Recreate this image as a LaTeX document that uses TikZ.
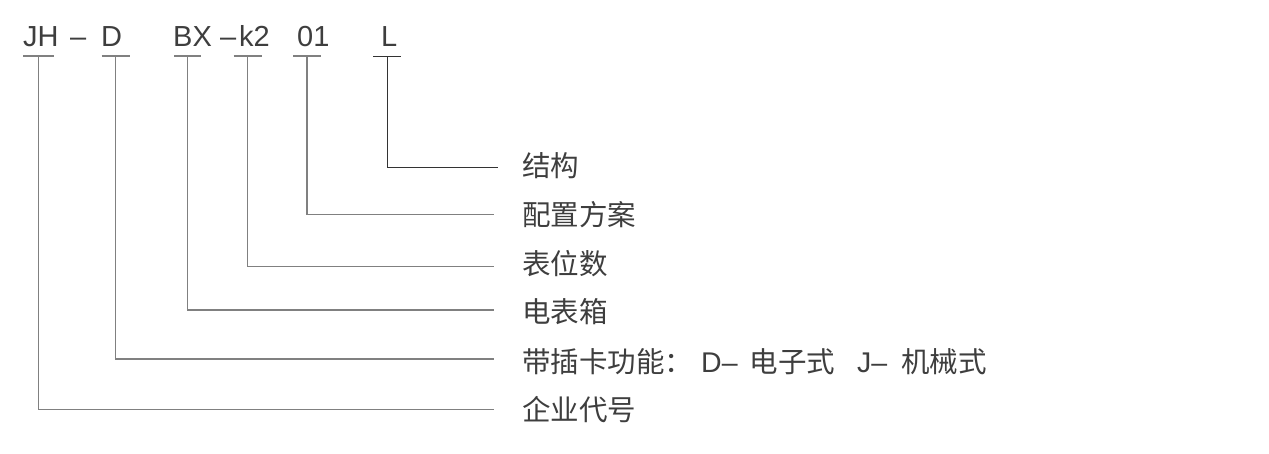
\documentclass[tikz,border=0pt]{standalone}
\usepackage{fontspec}
\setmainfont{Liberation Sans}
\newfontfamily\cjk{Noto Sans CJK SC}
\definecolor{inkgray}{RGB}{62,62,62}
\definecolor{linegray}{RGB}{128,128,128}
\tikzstyle{codenode} = [inner sep=0pt, anchor=base west, text=inkgray, font=\fontsize{29}{30}\selectfont]
\tikzstyle{labelnode} = [inner sep=0pt, anchor=west, text=inkgray, font=\cjk\fontsize{28.5}{30}\selectfont]
\tikzstyle{codeline} = [draw=linegray, line width=1.3pt]
\tikzstyle{darkline} = [draw=black!80, line width=0.9pt]

\begin{document}
\begin{tikzpicture}[x=1pt, y=1pt]
  \useasboundingbox (0,0) rectangle (1269,-453);

  \node[codenode] (codeJH) at (23,-46) {JH};
  \node[codenode] (dashA) at (70,-46) {–};
  \node[codenode] (codeD) at (101,-46) {D};
  \node[codenode] (codeBX) at (173,-46) {BX};
  \node[codenode] (dashB) at (220,-46) {–};
  \node[codenode] (codeK) at (239,-46) {k2};
  \node[codenode] (codeNo) at (297,-46) {01};
  \node[codenode] (codeL) at (381,-46) {L};

  \coordinate (tJH) at (38.5,-56);
  \coordinate (tD) at (115.5,-56);
  \coordinate (tBX) at (187.5,-56);
  \coordinate (tK) at (247.5,-56);
  \coordinate (tNo) at (307,-56);
  \coordinate (tL) at (387,-56);

  \draw[codeline] ([xshift=-15.5pt]tJH) -- ([xshift=15.5pt]tJH);
  \draw[codeline] ([xshift=-14pt]tD) -- ([xshift=14pt]tD);
  \draw[codeline] ([xshift=-13.5pt]tBX) -- ([xshift=13.5pt]tBX);
  \draw[codeline] ([xshift=-14pt]tK) -- ([xshift=14pt]tK);
  \draw[codeline] ([xshift=-14pt]tNo) -- ([xshift=14pt]tNo);
  \draw[darkline] ([xshift=-14pt]tL) -- ([xshift=14pt]tL);

  \node[labelnode] (lblStruct) at (522,-166) {结构};
  \node[labelnode] (lblPlan) at (522,-215) {配置方案};
  \node[labelnode] (lblSeat) at (522,-264) {表位数};
  \node[labelnode] (lblBox) at (522,-312) {电表箱};
  \node[labelnode] (lblCard) at (522,-362) {带插卡功能：\hspace{8pt}{\rmfamily D–}\hspace{12pt}电子式\hspace{22pt}{\rmfamily J–}\hspace{14pt}机械式};
  \node[labelnode] (lblCorp) at (522,-409.5) {企业代号};

  \coordinate (eStruct) at (497.5,-167.7);
  \coordinate (ePlan) at (493.5,-214.3);
  \coordinate (eSeat) at (493.5,-266.7);
  \coordinate (eBox) at (493.5,-310);
  \coordinate (eCard) at (493.5,-359);
  \coordinate (eCorp) at (493.5,-409.7);

  \draw[darkline] (tL) |- (eStruct);
  \draw[codeline] (tNo) |- (ePlan);
  \draw[codeline] (tK) |- (eSeat);
  \draw[codeline] (tBX) |- (eBox);
  \draw[codeline] (tD) |- (eCard);
  \draw[codeline] (tJH) |- (eCorp);
\end{tikzpicture}
\end{document}
